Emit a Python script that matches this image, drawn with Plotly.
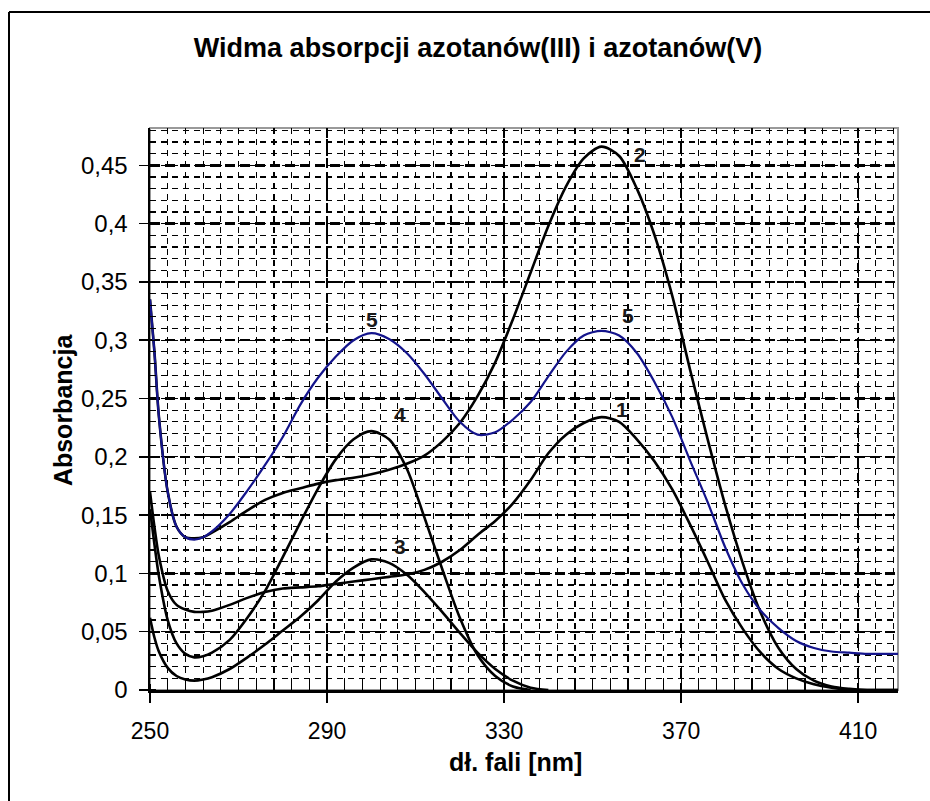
import plotly.graph_objects as go

# wavelength grid [nm]
wl = [250, 251, 252, 254, 256, 258, 260, 262, 264, 268, 272, 276, 280, 284, 288, 292,
      296, 300, 304, 308, 312, 316, 320, 324, 328, 332, 336, 340, 344, 348, 352, 356,
      360, 364, 368, 372, 376, 380, 384, 388, 392, 396, 400, 404, 408, 412, 416, 419]

# absorbance series
c1 = [0.170, 0.140, 0.115, 0.085, 0.073, 0.069, 0.067, 0.067, 0.068, 0.073, 0.079, 0.084,
      0.087, 0.088, 0.089, 0.091, 0.093, 0.095, 0.097, 0.099, 0.103, 0.110, 0.120, 0.133,
      0.145, 0.160, 0.180, 0.203, 0.219, 0.229, 0.234, 0.230, 0.215, 0.196, 0.172, 0.142,
      0.110, 0.077, 0.052, 0.032, 0.018, 0.010, 0.005, 0.002, 0.0, 0.0, 0.0, 0.0]
c2 = [0.335, 0.290, 0.235, 0.170, 0.140, 0.131, 0.130, 0.131, 0.135, 0.144, 0.154, 0.163,
      0.169, 0.173, 0.177, 0.180, 0.182, 0.185, 0.189, 0.194, 0.201, 0.213, 0.229, 0.252,
      0.281, 0.318, 0.358, 0.398, 0.432, 0.456, 0.466, 0.458, 0.430, 0.390, 0.338, 0.275,
      0.215, 0.158, 0.108, 0.066, 0.036, 0.018, 0.008, 0.003, 0.001, 0.0, 0.0, 0.0]
c3 = [0.062, 0.045, 0.033, 0.019, 0.012, 0.009, 0.008, 0.009, 0.011, 0.018, 0.028, 0.039,
      0.051, 0.063, 0.077, 0.093, 0.105, 0.112, 0.109, 0.099, 0.084, 0.067, 0.049, 0.032,
      0.018, 0.008, 0.002, 0.0]
c4 = [0.155, 0.125, 0.098, 0.060, 0.040, 0.031, 0.028, 0.029, 0.032, 0.043, 0.062, 0.085,
      0.114, 0.144, 0.173, 0.198, 0.215, 0.222, 0.215, 0.190, 0.148, 0.104, 0.062, 0.030,
      0.012, 0.003, 0.0]
c5 = [0.335, 0.290, 0.235, 0.170, 0.140, 0.131, 0.129, 0.131, 0.136, 0.151, 0.171, 0.193,
      0.217, 0.245, 0.268, 0.286, 0.300, 0.306, 0.301, 0.289, 0.271, 0.250, 0.230, 0.219,
      0.221, 0.232, 0.247, 0.269, 0.290, 0.304, 0.308, 0.304, 0.289, 0.264, 0.234, 0.197,
      0.161, 0.122, 0.090, 0.068, 0.053, 0.042, 0.036, 0.033, 0.032, 0.031, 0.031, 0.031]

# curve labels: text, wavelength, absorbance
lab_text = ["2", "5", "5", "4", "1", "3"]
lab_x = [360.7, 300.2, 358.0, 306.5, 356.7, 306.5]
lab_y = [0.4595, 0.3178, 0.3212, 0.236, 0.2405, 0.1228]

title = "Widma absorpcji azotanów(III) i azotanów(V)"
xtitle = "dł. fali [nm]"
ytitle = "Absorbancja"

FONT = "Liberation Sans, Arial, sans-serif"
BLACK = "#000000"
BLUE = "#14148c"

W, H = 930, 801
L, T, PW, PH = 150, 128, 748, 562

fig = go.Figure()
for ys in (c1, c2, c3, c4):
    fig.add_trace(go.Scatter(x=wl[:len(ys)], y=ys, mode="lines",
                             line=dict(color=BLACK, width=2.6, shape="spline", smoothing=0.8),
                             hoverinfo="skip"))
fig.add_trace(go.Scatter(x=wl, y=c5, mode="lines",
                         line=dict(color=BLUE, width=2.2, shape="spline", smoothing=0.8),
                         hoverinfo="skip"))

for t, xx, yy in zip(lab_text, lab_x, lab_y):
    fig.add_annotation(x=xx, y=yy, text=t, showarrow=False,
                       font=dict(family=FONT, size=21, color="#1a1a1a", weight="bold"))

fig.add_annotation(xref="paper", yref="paper", x=0.488, y=-0.1566, text=xtitle,
                   showarrow=False, font=dict(family=FONT, size=25, color=BLACK, weight="bold"))
fig.add_annotation(xref="paper", yref="paper", x=-0.1377, y=0.498, text=ytitle, textangle=-90,
                   showarrow=False, font=dict(family=FONT, size=25, color=BLACK, weight="bold"))

# plot-area border (grey)
fig.add_shape(type="rect", xref="paper", yref="paper", x0=0, x1=1, y0=0, y1=1,
              line=dict(color="#999999", width=2), layer="below")
# outer chart frame: only its top and left edges fall inside the picture
fig.add_shape(type="line", xref="paper", yref="paper", x0=-0.1885, x1=1.2, y0=1.2064, y1=1.2064,
              line=dict(color=BLACK, width=2), layer="below")
fig.add_shape(type="line", xref="paper", yref="paper", x0=-0.1885, x1=-0.1885, y0=-0.4, y1=1.2064,
              line=dict(color=BLACK, width=2), layer="below")

fig.update_layout(
    width=W, height=H,
    margin=dict(l=L, r=W - L - PW, t=T, b=H - T - PH, autoexpand=False),
    paper_bgcolor="white", plot_bgcolor="white",
    showlegend=False,
    separators=", ",
    title=dict(text=title, x=0.4385, xref="paper", xanchor="center",
               y=1 - 48 / H, yref="container", yanchor="middle",
               font=dict(family=FONT, size=27, color=BLACK, weight="bold")),
    font=dict(family=FONT, color=BLACK),
)

fig.update_xaxes(
    range=[250, 419], tick0=250, dtick=40, showline=True, linecolor=BLACK, linewidth=2.5,
    ticks="outside", ticklen=10, tickwidth=1.5, tickcolor=BLACK,
    tickfont=dict(family=FONT, size=23, color=BLACK), ticklabelstandoff=9,
    showgrid=True, gridcolor=BLACK, gridwidth=2.4, griddash="10px,5px",
    zeroline=False,
    minor=dict(tick0=250, dtick=4, showgrid=True, gridcolor=BLACK, gridwidth=1.2,
               griddash="6px,5px", ticks="inside", ticklen=6, tickwidth=1.2, tickcolor=BLACK),
)
fig.update_yaxes(
    range=[0, 0.482], tick0=0, dtick=0.05, showline=True, linecolor=BLACK, linewidth=2.5,
    ticks="outside", ticklen=9, tickwidth=1.5, tickcolor=BLACK,
    tickfont=dict(family=FONT, size=24, color=BLACK), ticklabelstandoff=6,
    showgrid=True, gridcolor=BLACK, gridwidth=2.4, griddash="10px,5px",
    zeroline=False,
    minor=dict(tick0=0, dtick=0.01, showgrid=True, gridcolor=BLACK, gridwidth=1.2,
               griddash="6px,5px", ticks="inside", ticklen=6, tickwidth=1.2, tickcolor=BLACK),
)

# remove the page's default body margin so the figure fills the window exactly
fig.write_html("out.html",
               config={"displayModeBar": False, "staticPlot": True},
               post_script="document.body.style.margin='0';document.body.style.overflow='hidden';")
